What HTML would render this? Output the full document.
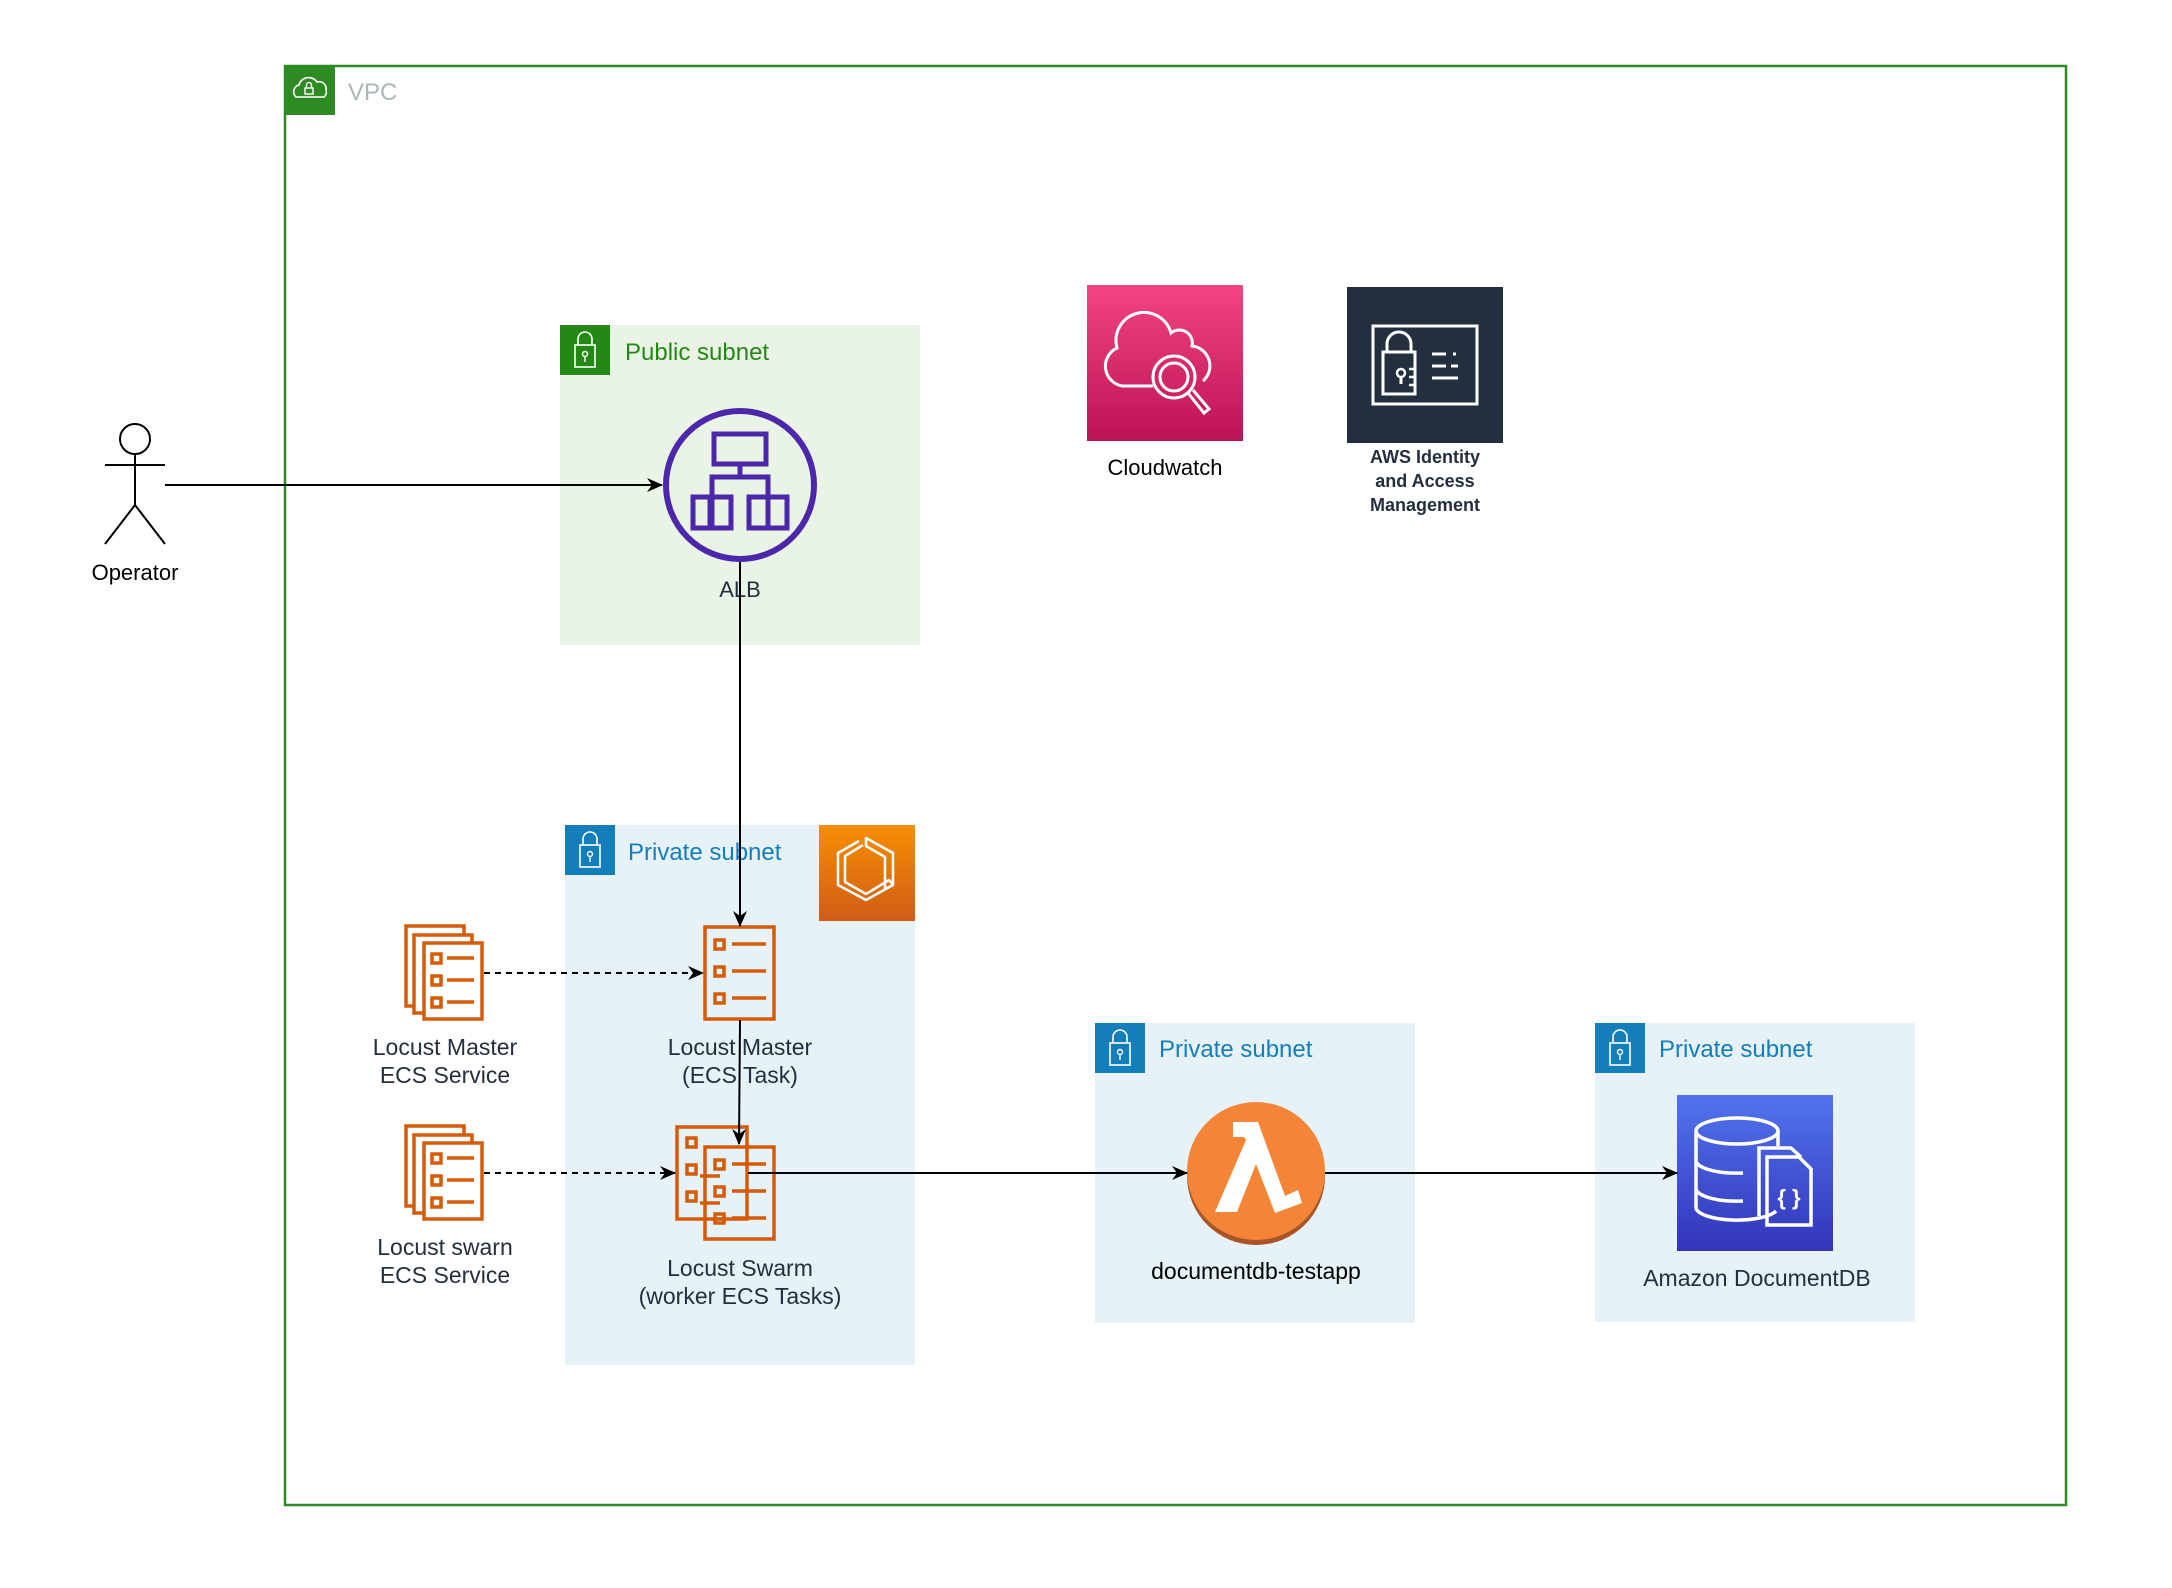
<!DOCTYPE html>
<html><head><meta charset="utf-8"><style>
html,body{margin:0;padding:0;background:#fff;}
svg{display:block;}
text{font-family:"Liberation Sans",Arial,sans-serif;}
</style></head><body>
<svg width="2172" height="1588" viewBox="0 0 2172 1588" xmlns="http://www.w3.org/2000/svg">
<defs>
<linearGradient id="cw" x1="0" y1="0" x2="0" y2="1"><stop offset="0" stop-color="#F34482"/><stop offset="1" stop-color="#BC1356"/></linearGradient>
<linearGradient id="ecs" x1="0" y1="0" x2="0" y2="1"><stop offset="0" stop-color="#F78E04"/><stop offset="1" stop-color="#D05C17"/></linearGradient>
<linearGradient id="ddb" x1="0" y1="0" x2="0" y2="1"><stop offset="0" stop-color="#5174EE"/><stop offset="1" stop-color="#3334B9"/></linearGradient>
<marker id="ah" markerWidth="16" markerHeight="16" refX="15" refY="8" orient="auto" markerUnits="userSpaceOnUse"><path d="M0,1 L16,8 L0,15 L5,8 Z" fill="#000"/></marker>
</defs>

<!-- VPC -->
<rect x="285" y="66" width="1781" height="1439" fill="none" stroke="#2E8B23" stroke-width="2.5"/>
<rect x="285" y="65" width="50" height="50" fill="#2E8B23"/>
<path d="M296,97 a7,7 0 0 1 3,-12 a10,10 0 0 1 18,-3 a7,7 0 0 1 9,8 a6,6 0 0 1 -2,7 z" fill="none" stroke="#fff" stroke-width="1.6"/>
<rect x="305" y="88" width="8" height="6" fill="none" stroke="#fff" stroke-width="1.4"/>
<path d="M306.5,88 v-3 a2.5,2.5 0 0 1 5,0 v3" fill="none" stroke="#fff" stroke-width="1.4"/>
<text x="348" y="100" font-size="24" fill="#AAB7B8">VPC</text>

<!-- Public subnet -->
<rect x="560" y="325" width="360" height="320" fill="#E9F3E6"/>
<rect x="560" y="325" width="50" height="50" fill="#248814"/>
<rect x="575" y="345" width="20" height="22" fill="none" stroke="#fff" stroke-width="1.6"/>
<path d="M578,345 v-6 a7,7 0 0 1 14,0 v6" fill="none" stroke="#fff" stroke-width="1.6"/>
<circle cx="585" cy="354" r="2.5" fill="none" stroke="#fff" stroke-width="1.4"/><line x1="585" y1="356" x2="585" y2="362" stroke="#fff" stroke-width="1.4"/>
<text x="625" y="360" font-size="24" fill="#248814">Public subnet</text>

<!-- ECS private subnet -->
<rect x="565" y="825" width="350" height="540" fill="#E6F2F8"/>
<rect x="565" y="825" width="50" height="50" fill="#147EBA"/>
<rect x="580" y="845" width="20" height="22" fill="none" stroke="#fff" stroke-width="1.6"/>
<path d="M583,845 v-6 a7,7 0 0 1 14,0 v6" fill="none" stroke="#fff" stroke-width="1.6"/>
<circle cx="590" cy="854" r="2.5" fill="none" stroke="#fff" stroke-width="1.4"/><line x1="590" y1="856" x2="590" y2="862" stroke="#fff" stroke-width="1.4"/>
<text x="628" y="860" font-size="24" fill="#147EBA">Private subnet</text>
<rect x="819" y="825" width="96" height="96" fill="url(#ecs)"/>
<path d="M866,838 L893,853 L893,885 L885,889 L885,857 L866,846 Z M863,845 L845,856 L845,882 L866,894 L889,880 L893,885 L866,900 L838,885 L838,853 L859,841" fill="none" stroke="#fff" stroke-width="2.5" stroke-linejoin="round"/>

<!-- Lambda subnet -->
<rect x="1095" y="1023" width="320" height="300" fill="#E6F2F8"/>
<rect x="1095" y="1023" width="50" height="50" fill="#147EBA"/>
<rect x="1110" y="1043" width="20" height="22" fill="none" stroke="#fff" stroke-width="1.6"/>
<path d="M1113,1043 v-6 a7,7 0 0 1 14,0 v6" fill="none" stroke="#fff" stroke-width="1.6"/>
<circle cx="1120" cy="1052" r="2.5" fill="none" stroke="#fff" stroke-width="1.4"/><line x1="1120" y1="1054" x2="1120" y2="1060" stroke="#fff" stroke-width="1.4"/>
<text x="1159" y="1057" font-size="24" fill="#147EBA">Private subnet</text>

<!-- DocDB subnet -->
<rect x="1595" y="1023" width="320" height="299" fill="#E6F2F8"/>
<rect x="1595" y="1023" width="50" height="50" fill="#147EBA"/>
<rect x="1610" y="1043" width="20" height="22" fill="none" stroke="#fff" stroke-width="1.6"/>
<path d="M1613,1043 v-6 a7,7 0 0 1 14,0 v6" fill="none" stroke="#fff" stroke-width="1.6"/>
<circle cx="1620" cy="1052" r="2.5" fill="none" stroke="#fff" stroke-width="1.4"/><line x1="1620" y1="1054" x2="1620" y2="1060" stroke="#fff" stroke-width="1.4"/>
<text x="1659" y="1057" font-size="24" fill="#147EBA">Private subnet</text>

<!-- Operator -->
<circle cx="135" cy="439" r="15" fill="#fff" stroke="#000" stroke-width="2"/>
<line x1="135" y1="454" x2="135" y2="505" stroke="#000" stroke-width="2"/>
<line x1="105" y1="465" x2="165" y2="465" stroke="#000" stroke-width="2"/>
<path d="M105,544 L135,505 L165,544" fill="none" stroke="#000" stroke-width="2"/>
<text x="135" y="580" font-size="22" text-anchor="middle" fill="#000">Operator</text>

<!-- ALB -->
<circle cx="740" cy="485" r="74" fill="none" stroke="#4D27AA" stroke-width="6"/>
<g fill="none" stroke="#4D27AA" stroke-width="5">
<rect x="714" y="434" width="52" height="30"/>
<path d="M740,464 v13 M712,497 v-20 h56 v20 M740,477 v0"/>
<rect x="693" y="497" width="17" height="31"/><rect x="712" y="497" width="0" height="31"/>
<rect x="693" y="497" width="38" height="31"/><path d="M712,497 v31"/>
<rect x="749" y="497" width="38" height="31"/><path d="M768,497 v31"/>
</g>
<text x="740" y="597" font-size="22" text-anchor="middle" fill="#232F3E">ALB</text>

<!-- Cloudwatch -->
<rect x="1087" y="285" width="156" height="156" fill="url(#cw)"/>
<path d="M1153,386 h-30 a20,20 0 0 1 -6,-38 a28,28 0 0 1 54,-15 a13,13 0 0 1 21,13 a20,20 0 0 1 11,35" fill="none" stroke="#fff" stroke-width="3"/>
<circle cx="1174" cy="377" r="21" fill="none" stroke="#fff" stroke-width="3"/>
<circle cx="1174" cy="377" r="14" fill="none" stroke="#fff" stroke-width="3"/>
<path d="M1188,393 l16,20 l5,-4 l-16,-19" fill="none" stroke="#fff" stroke-width="3"/>
<text x="1165" y="475" font-size="22" text-anchor="middle" fill="#000">Cloudwatch</text>

<!-- IAM -->
<rect x="1347" y="287" width="156" height="156" fill="#232F3E"/>
<rect x="1373" y="326" width="104" height="78" fill="none" stroke="#fff" stroke-width="3"/>
<rect x="1383" y="352" width="32" height="42" fill="none" stroke="#fff" stroke-width="3"/>
<path d="M1387,352 v-8 a12,12 0 0 1 24,0 v8" fill="none" stroke="#fff" stroke-width="3"/>
<circle cx="1401" cy="373" r="4" fill="none" stroke="#fff" stroke-width="2.5"/><line x1="1401" y1="377" x2="1401" y2="384" stroke="#fff" stroke-width="3"/>
<path d="M1409,369 h6 M1409,377 h6 M1409,385 h6" stroke="#fff" stroke-width="2.5"/>
<path d="M1432,354 h14 M1453,354 h3 M1432,366 h14 M1451,366 h7 M1432,378 h26" stroke="#fff" stroke-width="3"/>
<text font-size="18" font-weight="bold" text-anchor="middle" fill="#232F3E"><tspan x="1425" y="463">AWS Identity</tspan><tspan x="1425" y="487">and Access</tspan><tspan x="1425" y="511">Management</tspan></text>

<!-- Locust Master ECS Service -->
<g fill="#fff" stroke="#D45B07" stroke-width="3.5">
<rect x="406" y="926" width="58" height="80"/>
<rect x="414" y="935" width="58" height="78"/>
<rect x="424" y="943" width="58" height="76"/>
<rect x="432" y="954" width="9" height="9"/><rect x="432" y="976" width="9" height="9"/><rect x="432" y="998" width="9" height="9"/>
<path d="M447,958 h27 M447,980 h27 M447,1002 h27"/>
</g>
<text font-size="23" text-anchor="middle" fill="#232F3E"><tspan x="445" y="1055">Locust Master</tspan><tspan x="445" y="1083">ECS Service</tspan></text>

<!-- Locust swarm ECS Service -->
<g fill="#fff" stroke="#D45B07" stroke-width="3.5">
<rect x="406" y="1126" width="58" height="80"/>
<rect x="414" y="1135" width="58" height="78"/>
<rect x="424" y="1143" width="58" height="76"/>
<rect x="432" y="1154" width="9" height="9"/><rect x="432" y="1176" width="9" height="9"/><rect x="432" y="1198" width="9" height="9"/>
<path d="M447,1158 h27 M447,1180 h27 M447,1202 h27"/>
</g>
<text font-size="23" text-anchor="middle" fill="#232F3E"><tspan x="445" y="1255">Locust swarn</tspan><tspan x="445" y="1283">ECS Service</tspan></text>

<!-- Master task -->
<g fill="none" stroke="#D45B07" stroke-width="3.5">
<rect x="705" y="927" width="69" height="92"/>
<rect x="715" y="940" width="9" height="9"/><rect x="715" y="967" width="9" height="9"/><rect x="715" y="994" width="9" height="9"/>
<path d="M732,944 h34 M732,971 h34 M732,998 h34"/>
</g>
<text font-size="23" text-anchor="middle" fill="#232F3E"><tspan x="740" y="1055">Locust Master</tspan><tspan x="740" y="1083">(ECS Task)</tspan></text>

<!-- Swarm tasks -->
<g fill="none" stroke="#D45B07" stroke-width="3.5">
<rect x="677" y="1127" width="70" height="92"/>
<rect x="687" y="1138" width="9" height="9"/><rect x="687" y="1165" width="9" height="9"/><rect x="687" y="1192" width="9" height="9"/>
<rect x="705" y="1147" width="69" height="92"/>
<rect x="715" y="1160" width="9" height="9"/><rect x="715" y="1187" width="9" height="9"/><rect x="715" y="1214" width="9" height="9"/>
<path d="M732,1164 h34 M732,1191 h34 M732,1218 h34 M700,1176 h20 M700,1203 h20"/>
</g>
<text font-size="23" text-anchor="middle" fill="#232F3E"><tspan x="740" y="1276">Locust Swarm</tspan><tspan x="740" y="1304">(worker ECS Tasks)</tspan></text>

<!-- Lambda -->
<ellipse cx="1256" cy="1176" rx="69" ry="69" fill="#A85426"/>
<ellipse cx="1256" cy="1171" rx="69" ry="69" fill="#F58536"/>
<path d="M1233,1122 L1258,1122 L1285,1196 L1298,1190 L1302,1203 L1275,1213 L1256,1164 L1237,1212 L1215,1212 L1246,1140 L1244,1137 L1233,1137 Z" fill="#fff"/>
<text x="1256" y="1279" font-size="23" text-anchor="middle" fill="#000">documentdb-testapp</text>

<!-- DocumentDB -->
<rect x="1677" y="1095" width="156" height="156" fill="url(#ddb)"/>
<g fill="none" stroke="#fff" stroke-width="3.5">
<ellipse cx="1737" cy="1131" rx="41" ry="13"/>
<path d="M1696,1131 v77 a41,13 0 0 0 80,3 M1696,1161 a41,13 0 0 0 47,12 M1696,1189 a41,13 0 0 0 47,12 M1778,1131 v15"/>
<path d="M1759,1216 v-68 h32 l10,9"/>
<path d="M1767,1225 v-68 h32 l12,12 v56 z"/>
</g>
<text x="1789" y="1205" font-size="22" font-weight="bold" text-anchor="middle" fill="#fff">{ }</text>
<text x="1757" y="1286" font-size="23" text-anchor="middle" fill="#232F3E">Amazon DocumentDB</text>

<!-- connectors -->
<line x1="165" y1="485" x2="662" y2="485" stroke="#000" stroke-width="2" marker-end="url(#ah)"/>
<line x1="740" y1="562" x2="740" y2="926" stroke="#000" stroke-width="2" marker-end="url(#ah)"/>
<line x1="740" y1="1020" x2="739" y2="1144" stroke="#000" stroke-width="2" marker-end="url(#ah)"/>
<line x1="484" y1="973" x2="703" y2="973" stroke="#000" stroke-width="2" stroke-dasharray="6,5" marker-end="url(#ah)"/>
<line x1="484" y1="1173" x2="675" y2="1173" stroke="#000" stroke-width="2" stroke-dasharray="6,5" marker-end="url(#ah)"/>
<line x1="748" y1="1173" x2="1187" y2="1173" stroke="#000" stroke-width="2" marker-end="url(#ah)"/>
<line x1="1325" y1="1173" x2="1677" y2="1173" stroke="#000" stroke-width="2" marker-end="url(#ah)"/>
</svg>
</body></html>
